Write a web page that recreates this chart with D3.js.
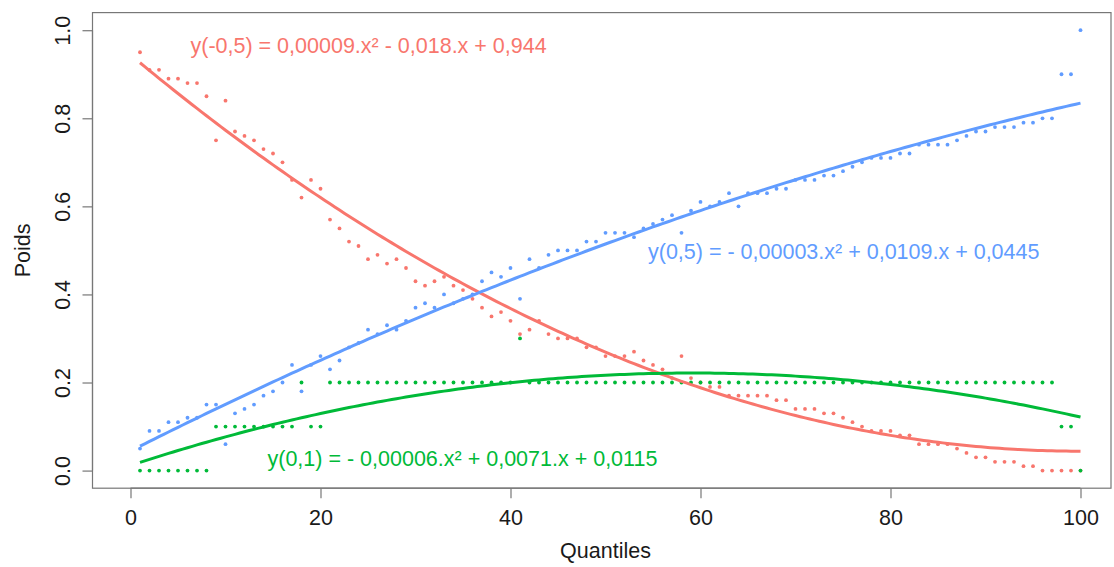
<!DOCTYPE html>
<html>
<head>
<meta charset="utf-8">
<script src="https://cdn.jsdelivr.net/npm/d3@7"></script>
<style>
  html, body { margin: 0; padding: 0; background: #fff; }
  svg { display: block; font-family: "Liberation Sans", Arial, sans-serif; }
</style>
</head>
<body>
<svg id="chart" width="1114" height="567"></svg>
<script>
// ---------- data ----------
const quantiles = d3.range(1, 101);

const seriesRed = [ // y(-0,5)
  0.95,0.91,0.91,0.89,0.89,0.88,0.88,0.85,0.75,0.84,
  0.77,0.76,0.75,0.73,0.72,0.70,0.66,0.62,0.66,0.64,
  0.57,0.55,0.52,0.51,0.48,0.49,0.47,0.48,0.46,0.43,
  0.42,0.43,0.44,0.42,0.41,0.39,0.37,0.35,0.36,0.34,
  0.31,0.32,0.34,0.31,0.30,0.30,0.30,0.28,0.28,0.26,
  0.26,0.26,0.27,0.25,0.24,0.23,0.21,0.26,0.21,0.20,
  0.19,0.19,0.17,0.17,0.17,0.17,0.17,0.16,0.16,0.14,
  0.14,0.14,0.13,0.13,0.12,0.11,0.10,0.09,0.09,0.09,
  0.08,0.08,0.06,0.06,0.06,0.06,0.05,0.04,0.03,0.03,
  0.02,0.02,0.02,0.01,0.01,0.00,0.00,0.00,0.00,0.00
];

const seriesBlue = [ // y(0,5)
  0.05,0.09,0.09,0.11,0.11,0.12,0.12,0.15,0.15,0.06,
  0.13,0.14,0.15,0.17,0.18,0.20,0.24,0.18,0.24,0.26,
  0.23,0.25,0.28,0.29,0.32,0.31,0.33,0.32,0.34,0.37,
  0.38,0.37,0.40,0.38,0.39,0.40,0.43,0.45,0.44,0.46,
  0.39,0.48,0.46,0.49,0.50,0.50,0.50,0.52,0.52,0.54,
  0.54,0.54,0.53,0.55,0.56,0.57,0.58,0.54,0.59,0.61,
  0.60,0.61,0.63,0.60,0.63,0.63,0.63,0.64,0.64,0.66,
  0.66,0.66,0.67,0.67,0.68,0.69,0.70,0.71,0.71,0.71,
  0.72,0.72,0.74,0.74,0.74,0.74,0.75,0.76,0.77,0.77,
  0.78,0.78,0.78,0.79,0.79,0.80,0.80,0.90,0.90,1.00
];

const seriesGreen = [ // y(0,1)
  0.0,0.0,0.0,0.0,0.0,0.0,0.0,0.0,0.1,0.1,
  0.1,0.1,0.1,0.1,0.1,0.1,0.1,0.2,0.1,0.1,
  0.2,0.2,0.2,0.2,0.2,0.2,0.2,0.2,0.2,0.2,
  0.2,0.2,0.2,0.2,0.2,0.2,0.2,0.2,0.2,0.2,
  0.3,0.2,0.2,0.2,0.2,0.2,0.2,0.2,0.2,0.2,
  0.2,0.2,0.2,0.2,0.2,0.2,0.2,0.2,0.2,0.2,
  0.2,0.2,0.2,0.2,0.2,0.2,0.2,0.2,0.2,0.2,
  0.2,0.2,0.2,0.2,0.2,0.2,0.2,0.2,0.2,0.2,
  0.2,0.2,0.2,0.2,0.2,0.2,0.2,0.2,0.2,0.2,
  0.2,0.2,0.2,0.2,0.2,0.2,0.2,0.1,0.1,0.0
];

// fitted quadratic coefficients [a, b, c] : a.x² + b.x + c (from the labels)
const coefRed   = [0.00009, -0.018, 0.944];
const coefBlue  = [-0.00003, 0.0109, 0.0445];
const coefGreen = [-0.00006, 0.0071, 0.0115];

const labelRed   = "y(-0,5) = 0,00009.x² - 0,018.x + 0,944";
const labelBlue  = "y(0,5) = - 0,00003.x² + 0,0109.x + 0,0445";
const labelGreen = "y(0,1) = - 0,00006.x² + 0,0071.x + 0,0115";

const xTicks = [0, 20, 40, 60, 80, 100];
const yTicks = [0.0, 0.2, 0.4, 0.6, 0.8, 1.0];
const xTitle = "Quantiles";
const yTitle = "Poids";

// ---------- drawing ----------
(function () {
const colRed = "#F8766D", colBlue = "#619CFF", colGreen = "#00BA38";
const fontSize = 21.5;
const ff = "'Liberation Sans', Arial, sans-serif";

const svg = d3.select("#chart");
const x = d3.scaleLinear().domain([-4, 104]).range([92.5, 1118.5]);
const y = d3.scaleLinear().domain([-0.04, 1.04]).range([488.2, 12.6]);

const boxL = 92.5, boxR = 1111, boxT = 12.6, boxB = 488.2;

// box
svg.append("rect")
  .attr("x", boxL).attr("y", boxT)
  .attr("width", boxR - boxL).attr("height", boxB - boxT)
  .attr("fill", "none").attr("stroke", "#777").attr("stroke-width", 1.2);

// x axis
const gx = svg.append("g")
  .attr("transform", `translate(0,${boxB})`)
  .call(d3.axisBottom(x).tickValues(xTicks).tickSize(10).tickPadding(12).tickFormat(d3.format("d")));
gx.select(".domain").attr("stroke", "#777").attr("stroke-width", 1.2)
  .attr("d", `M${x(0)},0H${x(100)}`);
gx.selectAll(".tick line").attr("stroke", "#777").attr("stroke-width", 1.2);
gx.selectAll(".tick text").attr("fill", "#1a1a1a")
  .style("font-size", fontSize + "px").style("font-family", ff);

// y axis
const gy = svg.append("g")
  .attr("transform", `translate(${boxL},0)`)
  .call(d3.axisLeft(y).tickValues(yTicks).tickSize(10).tickPadding(12).tickFormat(d3.format(".1f")));
gy.select(".domain").attr("stroke", "#777").attr("stroke-width", 1.2)
  .attr("d", `M0,${y(0)}V${y(1)}`);
gy.selectAll(".tick line").attr("stroke", "#777").attr("stroke-width", 1.2);
gy.selectAll(".tick text")
  .attr("x", null).attr("dy", null)
  .attr("text-anchor", "middle")
  .attr("transform", "translate(-22.5,0) rotate(-90)")
  .attr("fill", "#1a1a1a")
  .style("font-size", fontSize + "px").style("font-family", ff);

// axis titles
svg.append("text")
  .attr("x", (x(0) + x(100)) / 2).attr("y", 558)
  .attr("text-anchor", "middle").attr("fill", "#1a1a1a")
  .style("font-size", fontSize + "px").text(xTitle);
svg.append("text")
  .attr("transform", `translate(30,${(y(0) + y(1)) / 2}) rotate(-90)`)
  .attr("text-anchor", "middle").attr("fill", "#1a1a1a")
  .style("font-size", fontSize + "px").text(yTitle);

// points
function drawPoints(values, color) {
  svg.append("g").selectAll("circle")
    .data(quantiles.map((q, i) => ({ q, v: values[i] })))
    .join("circle")
    .attr("cx", d => x(d.q)).attr("cy", d => y(d.v))
    .attr("r", 1.9).attr("fill", color);
}
drawPoints(seriesRed, colRed);
drawPoints(seriesBlue, colBlue);
drawPoints(seriesGreen, colGreen);

// fitted curves
const xs = d3.range(1, 100.01, 0.5);
const line = d3.line().x(d => x(d[0])).y(d => y(d[1]));
function drawFit(coef, color) {
  const pts = xs.map(t => [t, coef[0] * t * t + coef[1] * t + coef[2]]);
  svg.append("path").attr("d", line(pts))
    .attr("fill", "none").attr("stroke", color).attr("stroke-width", 3);
}
drawFit(coefRed, colRed);
drawFit(coefBlue, colBlue);
drawFit(coefGreen, colGreen);

// equation labels
svg.append("text").attr("x", 190.5).attr("y", 52.5).attr("fill", colRed)
  .style("font-size", fontSize + "px").text(labelRed);
svg.append("text").attr("x", 648).attr("y", 259).attr("fill", colBlue)
  .style("font-size", fontSize + "px").text(labelBlue);
svg.append("text").attr("x", 267.5).attr("y", 466).attr("fill", colGreen)
  .style("font-size", fontSize + "px").text(labelGreen);
})();
</script>
</body>
</html>
